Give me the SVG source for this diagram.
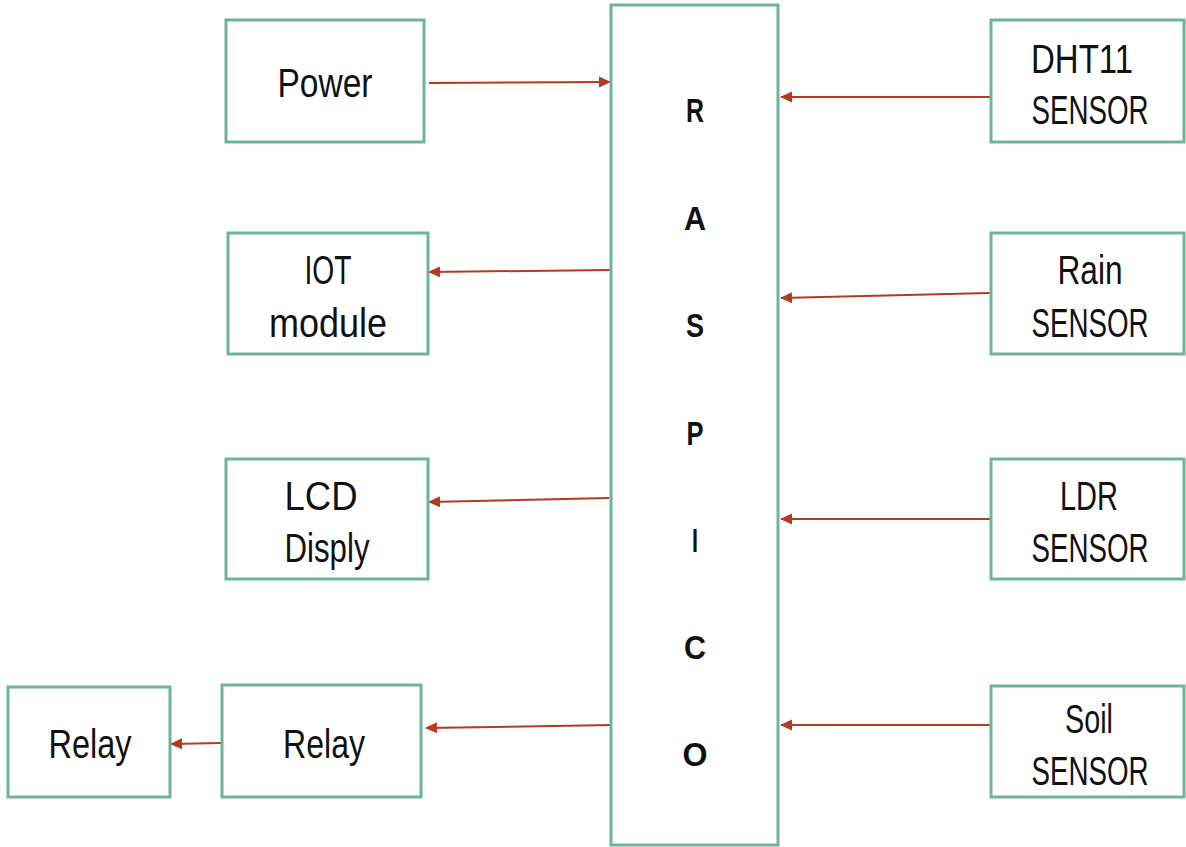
<svg xmlns="http://www.w3.org/2000/svg" width="1186" height="847" viewBox="0 0 1186 847">
<style>
.box{fill:#fff;stroke:#6cb59a;stroke-width:3}
.lbl{font-family:"Liberation Sans",Arial,sans-serif;font-size:40px;fill:#111;text-anchor:middle}
.ltr{font-family:"Liberation Sans",Arial,sans-serif;font-size:33px;font-weight:bold;fill:#111;text-anchor:middle}
.arr{stroke:#b53a22;stroke-width:2;fill:none;marker-end:url(#ah)}
</style>
<defs>
<marker id="ah" markerWidth="12" markerHeight="12" refX="11" refY="6" orient="auto" markerUnits="userSpaceOnUse">
<path d="M0,0.5 L12,6 L0,11.5 Z" fill="#b53a22"/>
</marker>
</defs>
<rect width="1186" height="847" fill="#fff"/>
<g id="connectors">
<line class="arr" x1="429" y1="83" x2="610" y2="82"/>
<line class="arr" x1="990" y1="97" x2="781" y2="97"/>
<line class="arr" x1="610" y1="270" x2="429" y2="272"/>
<line class="arr" x1="990" y1="293" x2="781" y2="298"/>
<line class="arr" x1="609" y1="498" x2="429" y2="502"/>
<line class="arr" x1="990" y1="519" x2="781" y2="519"/>
<line class="arr" x1="613" y1="725" x2="426" y2="728"/>
<line class="arr" x1="990" y1="725" x2="781" y2="725"/>
<line class="arr" x1="221" y1="743" x2="171" y2="744"/>
</g>
<g id="raspico">
<rect class="box" x="611" y="5" width="167" height="840"/>
<text class="ltr" x="695" y="122" textLength="18" lengthAdjust="spacingAndGlyphs">R</text>
<text class="ltr" x="695" y="230" textLength="22" lengthAdjust="spacingAndGlyphs">A</text>
<text class="ltr" x="695" y="337" textLength="18" lengthAdjust="spacingAndGlyphs">S</text>
<text class="ltr" x="695" y="445" textLength="17" lengthAdjust="spacingAndGlyphs">P</text>
<text class="ltr" x="695" y="552" textLength="6" lengthAdjust="spacingAndGlyphs">I</text>
<text class="ltr" x="695" y="659" textLength="22" lengthAdjust="spacingAndGlyphs">C</text>
<text class="ltr" x="695" y="766" textLength="25" lengthAdjust="spacingAndGlyphs">O</text>
</g>
<g id="power">
<rect class="box" x="226" y="20" width="198" height="122"/>
<text class="lbl" x="325" y="97" textLength="95" lengthAdjust="spacingAndGlyphs">Power</text>
</g>
<g id="iot">
<rect class="box" x="228" y="233" width="200" height="121"/>
<text class="lbl" x="328" y="284" textLength="47" lengthAdjust="spacingAndGlyphs">IOT</text>
<text class="lbl" x="328" y="337" textLength="118" lengthAdjust="spacingAndGlyphs">module</text>
</g>
<g id="lcd">
<rect class="box" x="226" y="459" width="202" height="120"/>
<text class="lbl" x="321" y="510" textLength="73" lengthAdjust="spacingAndGlyphs">LCD</text>
<text class="lbl" x="327" y="562" textLength="85" lengthAdjust="spacingAndGlyphs">Disply</text>
</g>
<g id="relay1">
<rect class="box" x="222" y="685" width="199" height="112"/>
<text class="lbl" x="324" y="758" textLength="82" lengthAdjust="spacingAndGlyphs">Relay</text>
</g>
<g id="relay2">
<rect class="box" x="8" y="687" width="162" height="110"/>
<text class="lbl" x="90" y="758" textLength="83" lengthAdjust="spacingAndGlyphs">Relay</text>
</g>
<g id="dht11">
<rect class="box" x="991" y="20" width="193" height="122"/>
<text class="lbl" x="1082" y="73" textLength="102" lengthAdjust="spacingAndGlyphs">DHT11</text>
<text class="lbl" x="1090" y="124" textLength="117" lengthAdjust="spacingAndGlyphs">SENSOR</text>
</g>
<g id="rain">
<rect class="box" x="991" y="233" width="193" height="121"/>
<text class="lbl" x="1090" y="284" textLength="65" lengthAdjust="spacingAndGlyphs">Rain</text>
<text class="lbl" x="1090" y="337" textLength="117" lengthAdjust="spacingAndGlyphs">SENSOR</text>
</g>
<g id="ldr">
<rect class="box" x="991" y="459" width="193" height="120"/>
<text class="lbl" x="1089" y="510" textLength="58" lengthAdjust="spacingAndGlyphs">LDR</text>
<text class="lbl" x="1090" y="562" textLength="117" lengthAdjust="spacingAndGlyphs">SENSOR</text>
</g>
<g id="soil">
<rect class="box" x="991" y="686" width="193" height="111"/>
<text class="lbl" x="1089" y="733" textLength="48" lengthAdjust="spacingAndGlyphs">Soil</text>
<text class="lbl" x="1090" y="785" textLength="117" lengthAdjust="spacingAndGlyphs">SENSOR</text>
</g>
</svg>
